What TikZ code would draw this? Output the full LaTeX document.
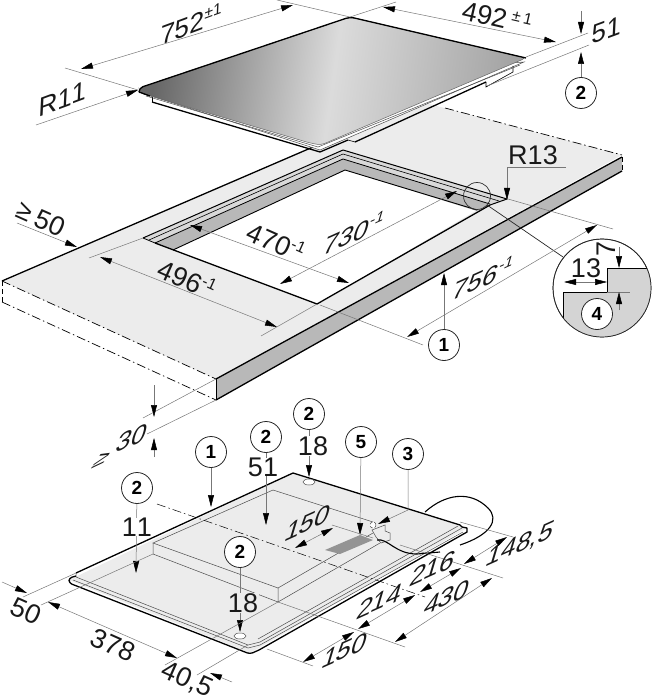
\documentclass[tikz,border=0pt]{standalone}
\usepackage{fontspec}
\setmainfont{Liberation Sans}[Kerning=Off]
\usetikzlibrary{arrows.meta}
\newcommand*{\hoch}[1]{{\fontsize{16}{16}\selectfont\raisebox{10pt}{#1}}}
\definecolor{topf}{HTML}{ECECEC}
\definecolor{wallf}{HTML}{B8B8B8}
\definecolor{dimc}{HTML}{777777}
\begin{document}
\begin{tikzpicture}[
    x=1pt,y=-1pt,
    font=\fontsize{27}{27}\selectfont,
    mtext/.style={inner sep=0pt,text=black!90},
    upr/.style={mtext,cm={.97,.36,.05,1,(0,0)}},
    upi/.style={mtext,cm={.98,.44,.3,1,(0,0)}},
    downr/.style={mtext,rotate=-24},
    thin line/.style={draw=dimc,line width=.5pt},
    cota/.style={thin line,{Triangle[length=12pt,width=6pt,color=black]}-{Triangle[length=12pt,width=6pt,color=black]}},
    cotaend/.style={thin line,-{Triangle[length=12pt,width=6pt,color=black]}},
    edgeb/.style={draw=black,line width=1.3pt,line join=round},
    callout/.style={draw=black!85,fill=white,circle,line width=.8pt,minimum size=31pt,inner sep=0pt,
      font=\fontsize{19}{19}\selectfont\bfseries},
    dashdot/.style={draw=black,line width=.7pt,dash pattern=on 9pt off 3pt on 1.5pt off 3pt},
    dashonly/.style={draw=black,line width=.7pt,dash pattern=on 5pt off 3pt},
    block/.style={draw=black!70,line width=.5pt},
  ]
  \useasboundingbox (0,0) rectangle (651,700);

  % worktop
  \fill[topf] (2,281) -- (418,101) -- (622,155) -- (216,379) -- cycle;
  \fill[wallf] (216,379) -- (622,157) -- (622,171) -- (216,400) -- cycle;
  \draw[edgeb] (2,281) -- (320,144);
  \draw[edgeb] (216,379) -- (622,157);
  \draw[edgeb] (216,400) -- (622,171);
  \draw[line width=.9pt] (216,379) -- (216,400);
  \draw[dashdot] (2,281) -- (216,379);
  \draw[dashdot] (2,302) -- (216,400);
  \draw[dashonly] (2,281) -- (2,302);
  \draw[dashonly] (622,157) -- (622,171);
  \draw[dashdot] (445,108) -- (622,155);

  % cut-out
  \fill[white] (173,250) -- (345,170) -- (477,210) -- (317,304) -- cycle;
  \fill[wallf] (155,243) -- (343,159) -- (490,204) -- (477,211) -- (345,170) -- (173,250) -- cycle;
  \fill[topf!92!black] (143,238) -- (343,150) -- (507,199) -- (490,204) -- (343,159) -- (155,243) -- cycle;
  \draw[edgeb,line width=1pt] (143,238) -- (343,150) -- (507,199) -- (490,205);
  \draw[line width=.6pt] (149,240) -- (343,154) -- (499,201);
  \draw[line width=.8pt] (155,243) -- (343,159) -- (490,204);
  \draw[line width=.9pt] (173,250) -- (345,170) -- (477,210);
  \draw[line width=.8pt] (143,238) -- (155,243);
  \draw[edgeb] (155,243) -- (317,304) -- (490,205);

  % glass plate
  \path[fill=white,draw=black!70,line width=.5pt] (139,92) -- (320,150) -- (524,62) -- cycle;
  \draw[edgeb] (152,102) -- (320,152) -- (348,140);
  \draw[line width=.6pt] (152,97) -- (152,102);
  \draw[edgeb] (355,142) -- (486,82);
  \draw[line width=.6pt] (348,140) -- (355,142);
  \draw[line width=.6pt] (486,82) -- (486,87) -- (513,72) -- (513,66);
  \draw[line width=.5pt,black!70] (146,96) -- (318,147) -- (520,65);
  \draw[line width=.5pt,black!60,left color=black!60,right color=black!36,middle color=black!14,shading angle=82,rounded corners=4pt]
    (139,88) -- (350,17) -- (526,58) -- (321,145) -- (310,143) -- (140,93) -- cycle;
  \draw[edgeb,rounded corners=4pt] (139,92) -- (139,88) -- (350,17) -- (526,58);
  \draw[edgeb,rounded corners=2pt] (139,92) -- (150,96);

  % zoom circle
  \draw[line width=.7pt,black!80] (477,196) circle (13.5);
  \coordinate (zoomA) at (487,205);
  \coordinate (zoomB) at (563,257);
  \draw[line width=.7pt,black!85] (zoomA) -- (zoomB);
  \node[circle,draw=black!85,fill=white,line width=.7pt,minimum size=98pt,inner sep=0pt] (lupe) at (602,288) {};
  \begin{scope}
    \clip (602,288) circle (49);
    \fill[black!17] (563,292) -- (607,292) -- (607,268) -- (655,268) -- (655,345) -- (563,345) -- cycle;
    \draw[line width=.6pt] (563,345) -- (563,292) -- (607,292) -- (607,268) -- (655,268);
  \end{scope}
  \draw[line width=.7pt,black!85] (602,288) circle (49);
  \draw[thin line] (607,292) -- (630,292);
  \coordinate (m13a) at (564,282);
  \coordinate (m13b) at (607,282);
  \coordinate (m7t0) at (619,247);
  \coordinate (m7t) at (619,268);
  \coordinate (m7b0) at (619,310);
  \coordinate (m7b) at (619,292);
  \draw[cota] (m13a) -- (m13b);
  \draw[cotaend] (m7t0) -- (m7t);
  \draw[cotaend] (m7b0) -- (m7b);
  \node[mtext] (t13) at (586,268) {13};
  \node[mtext,rotate=90] (t7) at (606,249) {7};
  \node[callout] (p4) at (597,314) {4};

  % dimensions, plate
  \draw[thin line] (65,68) -- (138,90);
  \draw[thin line] (277,0) -- (350,17) -- (396,2);
  \draw[thin line] (526,57) -- (588,33);
  \draw[thin line] (487,86) -- (589,45);
  \coordinate (a1) at (81,69);
  \coordinate (a2) at (293,5);
  \coordinate (b1) at (383,7);
  \coordinate (b2) at (556,42);
  \coordinate (r0) at (36,125);
  \coordinate (r1) at (138,90);
  \coordinate (s0) at (581,11);
  \coordinate (s1) at (581,34);
  \coordinate (s2) at (581,52);
  \draw[cota] (a1) -- (a2);
  \draw[cota] (b1) -- (b2);
  \draw[cotaend] (r0) -- (r1);
  \draw[cotaend] (s0) -- (s1);
  \node[upr] (t752) at (191,24) {752\hoch{±1}};
  \node[mtext,rotate=-13] (t492) at (497,17) {492\,\hoch{±\,1}};
  \node[upr] (tR11) at (63,99) {R11};
  \node[upr] (t51) at (607,30) {51};
  \node[callout] (p2a) at (581,93) {2};
  \draw[cotaend] (p2a) -- (s2);

  % dimensions, worktop
  \coordinate (c0) at (17,223);
  \coordinate (c1) at (77,247);
  \coordinate (c2) at (100,257);
  \coordinate (c3) at (277,327);
  \coordinate (d1) at (190,225);
  \coordinate (d2) at (349,283);
  \coordinate (e1) at (280,284);
  \coordinate (e2) at (457,191);
  \coordinate (f1) at (407,337);
  \coordinate (f2) at (597,225);
  \draw[thin line] (89,258) -- (143,238);
  \draw[thin line] (261,336) -- (317,304);
  \draw[thin line] (508,199) -- (613,229);
  \draw[thin line] (320,305) -- (423,345);
  \draw[cotaend] (c0) -- (c1);
  \draw[cota] (c2) -- (c3);
  \draw[cota] (d1) -- (d2);
  \draw[cota] (e1) -- (e2);
  \draw[cota] (f1) -- (f2);
  \node[downr] (tge) at (25,212) {≥};
  \node[downr] (t50a) at (50,223) {50};
  \node[downr] (t496) at (187,279) {496\hoch{-1}};
  \node[downr] (t470) at (276,242) {470\hoch{-1}};
  \node[upi] (t730) at (354,233) {730\hoch{-1}};
  \node[upi] (t756) at (483,278) {756\hoch{-1}};
  \node[mtext] (tR13) at (533,155) {R13};
  \coordinate (q0) at (566,167);
  \coordinate (q1) at (507,167);
  \coordinate (q2) at (507,200);
  \draw[cotaend] (q0) -- (q1) -- (q2);
  \node[callout] (p1a) at (444,345) {1};
  \coordinate (p1t) at (444,273);
  \draw[cotaend] (p1a) -- (p1t);

  % dimension, thickness
  \draw[thin line] (216,379) -- (143,418);
  \draw[thin line] (216,400) -- (147,434);
  \coordinate (g0) at (154,385);
  \coordinate (g1) at (154,417);
  \coordinate (g2) at (154,457);
  \coordinate (g3) at (154,438);
  \draw[cotaend] (g0) -- (g1);
  \draw[cotaend] (g2) -- (g3);
  \node[upi] (t30) at (132,438) {30};
  \node[mtext,cm={.95,.45,.6,.9,(0,0)}] (tge2) at (102,459) {≥};

  % hob, underside
  \path[fill=topf,draw=none] (69,580) -- (293,473) -- (467,528) -- (250,653) -- cycle;
  \draw[edgeb] (76,573) -- (293,473) -- (460,525) -- (462,527) -- (467,528) -- (467,532) -- (259,650);
  \draw[edgeb,rounded corners=3pt] (259,650) -- (250,654) -- (69,583) -- (69,578) -- (76,576);
  \draw[block] (76,573) -- (76,577) -- (248,645) -- (260,642) -- (462,528);
  \draw[block] (73,580) -- (248,648) -- (260,645) -- (463,532);
  \draw[block] (258,639) -- (458,526);
  \draw[block] (273,490) -- (153,543) -- (278,588) -- (373,533);
  \draw[block] (273,490) -- (373,522);
  \draw[block] (153,543) -- (153,554) -- (278,602) -- (278,588);
  \draw[block] (278,602) -- (380,543);
  \draw[dashdot,line width=.5pt] (157,504) -- (425,597);
  \fill[black!42] (325,550) -- (360,535) -- (373,540) -- (340,554) -- cycle;
  \draw[block,fill=topf] (372,530) -- (385,525) -- (385,531) -- (390,533) -- (390,540) -- (381,543) -- (376,537) -- cycle;
  \draw[block,densely dashed,fill=white] (373,525) circle (3);
  \draw[line width=1.1pt] (425,512) .. controls (445,494) and (470,490) .. (488,508)
    .. controls (500,520) and (490,535) .. (460,545);
  \draw[line width=1.1pt] (377,540) .. controls (388,538) and (395,554) .. (417,554) -- (440,552);
  \draw[black!70,line width=.5pt,fill=white] (309,482) ellipse (6 and 3);
  \draw[black!70,line width=.5pt,fill=white] (240,636) ellipse (6 and 3);

  % callouts, hob
  \node[callout] (p2b) at (137,488) {2};
  \node[callout] (p1b) at (211,452) {1};
  \node[callout] (p2c) at (266,437) {2};
  \node[callout] (p2d) at (309,414) {2};
  \node[callout] (p2e) at (240,552) {2};
  \node[callout] (p5) at (361,442) {5};
  \node[callout] (p3) at (408,454) {3};
  \coordinate (h2b) at (136,573);
  \coordinate (h1b) at (211,507);
  \coordinate (h2c) at (266,525);
  \coordinate (h2d) at (309,477);
  \coordinate (h2e) at (240,632);
  \coordinate (h5) at (360,535);
  \coordinate (h3k) at (408,510);
  \coordinate (h3) at (378,524);
  \draw[cotaend] (p2b) -- (h2b);
  \draw[cotaend] (p1b) -- (h1b);
  \draw[cotaend] (p2c) -- (h2c);
  \draw[cotaend] (p2d) -- (h2d);
  \draw[cotaend] (p2e) -- (h2e);
  \draw[cotaend] (p5) -- (h5);
  \draw[cotaend] (p3) -- (h3k) -- (h3);
  \node[mtext,fill=white,inner xsep=1pt] (t11) at (137,527) {11};
  \node[mtext,fill=white,inner xsep=1pt] (t51b) at (263,467) {51};
  \node[mtext,fill=white,inner xsep=1pt] (t18a) at (313,446) {18};
  \node[mtext,fill=topf,inner xsep=1pt] (t18b) at (243,603) {18};

  % dimensions, hob
  \draw[thin line] (23,597) -- (76,573);
  \draw[thin line] (41,605) -- (153,554);
  \draw[thin line] (165,665) -- (278,602);
  \draw[thin line] (197,675) -- (248,645);
  \draw[thin line] (267,649) -- (313,666);
  \draw[thin line] (278,602) -- (405,647);
  \draw[thin line] (400,545) -- (503,578);
  \draw[thin line] (460,522) -- (513,537);
  \draw[thin line] (332,525) -- (373,538);
  \coordinate (k0) at (2,582);
  \coordinate (k1) at (27,593);
  \coordinate (k2) at (48,602);
  \coordinate (k3) at (177,658);
  \coordinate (k4) at (210,673);
  \coordinate (k5) at (232,682);
  \draw[cotaend] (k0) -- (k1);
  \draw[cota] (k2) -- (k3);
  \draw[cotaend] (k5) -- (k4);
  \coordinate (n1) at (303,662);
  \coordinate (n2) at (354,632);
  \coordinate (n3) at (358,629);
  \coordinate (n4) at (415,595);
  \coordinate (n5) at (420,592);
  \coordinate (n6) at (461,568);
  \coordinate (n7) at (464,564);
  \coordinate (n8) at (507,537);
  \draw[cota] (n1) -- (n2);
  \draw[cota] (n3) -- (n4);
  \draw[cota] (n5) -- (n6);
  \draw[cota] (n7) -- (n8);
  \coordinate (o1) at (395,642);
  \coordinate (o2) at (492,578);
  \draw[cota] (o1) -- (o2);
  \coordinate (u1) at (295,548);
  \coordinate (u2) at (333,528);
  \draw[cota] (u1) -- (u2);
  \node[downr] (t50b) at (26,611) {50};
  \node[downr] (t378) at (113,645) {378};
  \node[downr] (t40) at (187,680) {40,5};
  \node[upi] (t150a) at (308,523) {150};
  \node[upi] (t150b) at (345,650) {150};
  \node[upi] (t214) at (380,601) {214};
  \node[upi] (t216) at (433,568) {216};
  \node[upi] (t430) at (447,597) {430};
  \node[upi] (t148) at (520,545) {148,5};
\end{tikzpicture}
\end{document}
